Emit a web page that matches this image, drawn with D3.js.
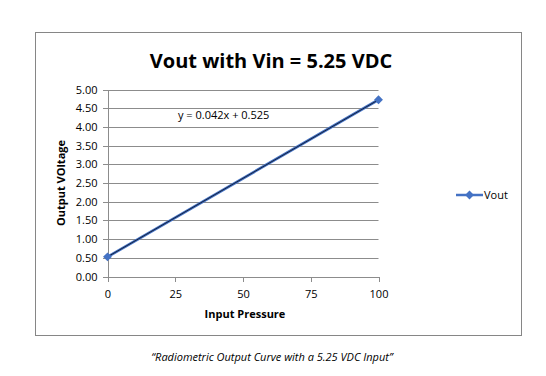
<!DOCTYPE html>
<html lang="en">
<head>
  <meta charset="UTF-8">
  <title>Vout with Vin = 5.25 VDC</title>
  <script src="https://d3js.org/d3.v7.min.js"></script>
  <style>
    html, body {
      margin: 0;
      background: #fff;
    }
    svg {
      display: block;
    }
    text {
      font-family: "Open Sans", "Liberation Sans", sans-serif;
      fill: #000;
    }
    .grid line {
      stroke: #8c8c8c;
      stroke-width: 1px;
    }
    .axis path, .axis line {
      stroke: #8c8c8c;
      shape-rendering: crispEdges;
    }
    .axis text {
      font-size: 11px;
    }
  </style>
</head>
<body>
  <svg width="546" height="376"></svg>
  <script>
    // series data (Vout vs input pressure)
    const pressure = [0, 100];
    const vout = [0.525, 4.725];
    // trendline from Excel
    const trendSlope = 0.042;
    const trendIntercept = 0.525;
    const xTicks = [0, 25, 50, 75, 100];
    const yTicks = [0, 0.5, 1, 1.5, 2, 2.5, 3, 3.5, 4, 4.5, 5];

    const svg = d3.select("svg");

    // outer chart border
    svg.append("rect")
      .attr("x", 35.5).attr("y", 32.5)
      .attr("width", 486).attr("height", 303)
      .attr("fill", "#fff")
      .attr("stroke", "#868686");

    const x = d3.scaleLinear().domain([0, 100]).range([107.5, 378.5]);
    const y = d3.scaleLinear().domain([0, 5]).range([276.5, 89.5]);

    // gridlines
    svg.append("g")
      .attr("class", "grid")
      .selectAll("line")
      .data(yTicks.filter(d => d > 0))
      .enter().append("line")
      .attr("x1", x(0)).attr("x2", x(100))
      .attr("y1", d => Math.round(y(d)) + 0.5)
      .attr("y2", d => Math.round(y(d)) + 0.5);

    // axes
    svg.append("g")
      .attr("class", "axis")
      .attr("transform", `translate(0,${y(0)})`)
      .call(d3.axisBottom(x).tickValues(xTicks).tickSize(5).tickSizeOuter(0).tickPadding(9))
      .selectAll("text").attr("dy", "0.71em");

    svg.append("g")
      .attr("class", "axis")
      .attr("transform", `translate(${x(0)},0)`)
      .call(d3.axisLeft(y).tickValues(yTicks).tickFormat(d3.format(".2f")).tickSize(5).tickSizeOuter(0).tickPadding(5));

    const pts = pressure.map((p, i) => [p, vout[i]]);

    // series line
    svg.append("path")
      .datum(pts)
      .attr("fill", "none")
      .attr("stroke", "#4472c4")
      .attr("stroke-width", 2.8)
      .attr("d", d3.line().x(d => x(d[0])).y(d => y(d[1])));

    // linear trendline
    svg.append("path")
      .datum(pressure.map(p => [p, trendSlope * p + trendIntercept]))
      .attr("fill", "none")
      .attr("stroke", "#14213d")
      .attr("stroke-width", 1)
      .attr("d", d3.line().x(d => x(d[0])).y(d => y(d[1])));

    const diamond = d3.symbol().type(d3.symbolDiamond2).size(50);

    svg.append("g")
      .selectAll("path")
      .data(pts)
      .enter().append("path")
      .attr("d", diamond)
      .attr("fill", "#4472c4")
      .attr("transform", d => `translate(${x(d[0])},${y(d[1])})`);

    // title
    svg.append("text")
      .attr("x", 271).attr("y", 68)
      .attr("text-anchor", "middle")
      .attr("font-size", 20)
      .attr("font-weight", "bold")
      .text("Vout with Vin = 5.25 VDC");

    // trendline equation
    svg.append("text")
      .attr("x", 178).attr("y", 119)
      .attr("font-size", 11)
      .text(`y = ${trendSlope}x + ${trendIntercept}`);

    // axis titles
    svg.append("text")
      .attr("x", 245).attr("y", 318)
      .attr("text-anchor", "middle")
      .attr("font-size", 11)
      .attr("font-weight", "bold")
      .text("Input Pressure");

    svg.append("text")
      .attr("transform", "translate(65,183) rotate(-90)")
      .attr("text-anchor", "middle")
      .attr("font-size", 11)
      .attr("font-weight", "bold")
      .text("Output VOltage");

    // legend
    const lg = svg.append("g").attr("transform", "translate(456,195)");
    lg.append("line")
      .attr("x1", 0).attr("x2", 27)
      .attr("stroke", "#4472c4").attr("stroke-width", 2.5);
    lg.append("path")
      .attr("d", diamond)
      .attr("fill", "#4472c4")
      .attr("transform", "translate(13.5,0)");
    lg.append("text")
      .attr("x", 28).attr("y", 4)
      .attr("font-size", 11)
      .text("Vout");

    // caption below chart
    svg.append("text")
      .attr("x", 272).attr("y", 361)
      .attr("text-anchor", "middle")
      .attr("font-size", 11)
      .attr("font-style", "italic")
      .text("\u201CRadiometric Output Curve with a 5.25 VDC Input\u201D");
  </script>
</body>
</html>
